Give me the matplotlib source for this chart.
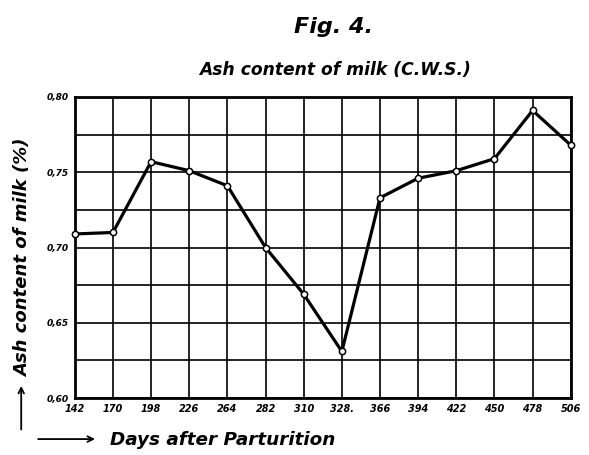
import numpy as np
import matplotlib.pyplot as plt

# days after parturition (28-day steps) and the hand-lettered tick texts
days = [142, 170, 198, 226, 254, 282, 310, 338, 366, 394, 422, 450, 478, 506]
day_labels = ["142", "170", "198", "226", "264", "282", "310", "328.",
              "366", "394", "422", "450", "478", "506"]

# ash content of milk (%)
ash = [0.709, 0.710, 0.757, 0.751, 0.741, 0.700, 0.669, 0.631,
       0.733, 0.746, 0.751, 0.759, 0.791, 0.768]

y_ticks = [0.60, 0.65, 0.70, 0.75, 0.80]
y_labels = ["0,60", "0,65", "0,70", "0,75", "0,80"]

hand = {"family": "DejaVu Sans", "style": "italic", "weight": "bold"}

fig = plt.figure(figsize=(5.89, 4.55), dpi=100)
ax = fig.add_axes([0.127, 0.125, 0.842, 0.662])

ax.plot(days, ash, color="black", lw=2.3, marker="o", ms=4.5,
        mfc="white", mec="black", mew=1.1, zorder=3, clip_on=False)

ax.set_xlim(days[0], days[-1])
ax.set_ylim(0.60, 0.80)

# grid: every day column and every 0.025
ax.set_xticks(days)
ax.set_xticklabels(day_labels, fontsize=7, **hand)
ax.set_yticks(y_ticks)
ax.set_yticks(np.arange(0.625, 0.80, 0.05), minor=True)
ax.set_yticklabels(y_labels, fontsize=6.5, **hand)
ax.grid(True, which="both", color="black", lw=1.2)
ax.tick_params(which="both", length=0, pad=4)

for s in ax.spines.values():
    s.set_linewidth(2)

fig.text(0.566, 0.94, "Fig. 4.", ha="center", va="center", fontsize=16, **hand)
fig.text(0.569, 0.846, "Ash content of milk (C.W.S.)", ha="center",
         va="center", fontsize=12.3, **hand)

# y label with arrow
fig.text(0.04, 0.433, "Ash content of milk (%)", rotation=90, ha="center",
         va="center", fontsize=13, **hand)
fig.add_artist(plt.Annotation("", xy=(0.036, 0.158), xytext=(0.036, 0.05),
                              xycoords="figure fraction",
                              arrowprops=dict(arrowstyle="->", lw=1.3, color="black")))

# x label with arrow
fig.add_artist(plt.Annotation("", xy=(0.166, 0.035), xytext=(0.06, 0.035),
                              xycoords="figure fraction",
                              arrowprops=dict(arrowstyle="->", lw=1.3, color="black")))
fig.text(0.187, 0.033, "Days after Parturition", ha="left", va="center",
         fontsize=13.2, **hand)

fig.savefig("out.png", dpi=100)
